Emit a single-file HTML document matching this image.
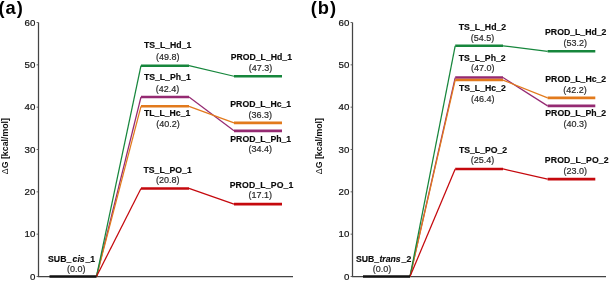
<!DOCTYPE html><html><head><meta charset="utf-8"><style>html,body{margin:0;padding:0;background:#fff;width:609px;height:281px;overflow:hidden}svg{display:block;will-change:transform}text{font-family:"Liberation Sans",sans-serif}</style></head><body>
<svg width="609" height="281" viewBox="0 0 609 281">
<rect width="609" height="281" fill="#fff"/>
<path d="M38.5 22.5V276.5H293" fill="none" stroke="#444" stroke-width="1.25"/>
<line x1="36.60" y1="276.50" x2="38.5" y2="276.50" stroke="#555" stroke-width="0.9"/>
<text x="35.40" y="279.60" font-size="9.7" text-anchor="end" fill="#111" stroke="#111" stroke-width="0.2">0</text>
<line x1="36.60" y1="234.17" x2="38.5" y2="234.17" stroke="#555" stroke-width="0.9"/>
<text x="35.40" y="237.27" font-size="9.7" text-anchor="end" fill="#111" stroke="#111" stroke-width="0.2">10</text>
<line x1="36.60" y1="191.83" x2="38.5" y2="191.83" stroke="#555" stroke-width="0.9"/>
<text x="35.40" y="194.93" font-size="9.7" text-anchor="end" fill="#111" stroke="#111" stroke-width="0.2">20</text>
<line x1="36.60" y1="149.50" x2="38.5" y2="149.50" stroke="#555" stroke-width="0.9"/>
<text x="35.40" y="152.60" font-size="9.7" text-anchor="end" fill="#111" stroke="#111" stroke-width="0.2">30</text>
<line x1="36.60" y1="107.17" x2="38.5" y2="107.17" stroke="#555" stroke-width="0.9"/>
<text x="35.40" y="110.27" font-size="9.7" text-anchor="end" fill="#111" stroke="#111" stroke-width="0.2">40</text>
<line x1="36.60" y1="64.84" x2="38.5" y2="64.84" stroke="#555" stroke-width="0.9"/>
<text x="35.40" y="67.94" font-size="9.7" text-anchor="end" fill="#111" stroke="#111" stroke-width="0.2">50</text>
<line x1="36.60" y1="22.50" x2="38.5" y2="22.50" stroke="#555" stroke-width="0.9"/>
<text x="35.40" y="25.60" font-size="9.7" text-anchor="end" fill="#111" stroke="#111" stroke-width="0.2">60</text>
<text transform="translate(7.6,118.0) rotate(-90)" font-size="8.8" font-weight="bold" text-anchor="end" fill="#111"><tspan font-weight="normal">Δ</tspan>G [kcal/mol]</text>
<polyline points="96.5,276.5 141,97.01" fill="none" stroke="#952a72" stroke-width="1.25"/>
<polyline points="189,97.01 234,130.87" fill="none" stroke="#952a72" stroke-width="1.25"/>
<polyline points="96.5,276.5 141,106.32" fill="none" stroke="#e27a1c" stroke-width="1.25"/>
<polyline points="189,106.32 234,122.83" fill="none" stroke="#e27a1c" stroke-width="1.25"/>
<polyline points="96.5,276.5 141,65.68" fill="none" stroke="#16863c" stroke-width="1.25"/>
<polyline points="189,65.68 234,76.26" fill="none" stroke="#16863c" stroke-width="1.25"/>
<polyline points="96.5,276.5 141,188.45" fill="none" stroke="#c5080d" stroke-width="1.25"/>
<polyline points="189,188.45 234,204.11" fill="none" stroke="#c5080d" stroke-width="1.25"/>
<line x1="141" y1="97.01" x2="189" y2="97.01" stroke="#952a72" stroke-width="2.6"/>
<line x1="234" y1="130.87" x2="282" y2="130.87" stroke="#952a72" stroke-width="2.6"/>
<line x1="141" y1="106.32" x2="189" y2="106.32" stroke="#e27a1c" stroke-width="2.6"/>
<line x1="234" y1="122.83" x2="282" y2="122.83" stroke="#e27a1c" stroke-width="2.6"/>
<line x1="141" y1="65.68" x2="189" y2="65.68" stroke="#16863c" stroke-width="2.6"/>
<line x1="234" y1="76.26" x2="282" y2="76.26" stroke="#16863c" stroke-width="2.6"/>
<line x1="141" y1="188.45" x2="189" y2="188.45" stroke="#c5080d" stroke-width="2.6"/>
<line x1="234" y1="204.11" x2="282" y2="204.11" stroke="#c5080d" stroke-width="2.6"/>
<line x1="49.5" y1="276.5" x2="96.5" y2="276.5" stroke="#111" stroke-width="2.6"/>
<path d="M352.5 22.5V276.5H606" fill="none" stroke="#444" stroke-width="1.25"/>
<line x1="350.60" y1="276.50" x2="352.5" y2="276.50" stroke="#555" stroke-width="0.9"/>
<text x="349.40" y="279.60" font-size="9.7" text-anchor="end" fill="#111" stroke="#111" stroke-width="0.2">0</text>
<line x1="350.60" y1="234.17" x2="352.5" y2="234.17" stroke="#555" stroke-width="0.9"/>
<text x="349.40" y="237.27" font-size="9.7" text-anchor="end" fill="#111" stroke="#111" stroke-width="0.2">10</text>
<line x1="350.60" y1="191.83" x2="352.5" y2="191.83" stroke="#555" stroke-width="0.9"/>
<text x="349.40" y="194.93" font-size="9.7" text-anchor="end" fill="#111" stroke="#111" stroke-width="0.2">20</text>
<line x1="350.60" y1="149.50" x2="352.5" y2="149.50" stroke="#555" stroke-width="0.9"/>
<text x="349.40" y="152.60" font-size="9.7" text-anchor="end" fill="#111" stroke="#111" stroke-width="0.2">30</text>
<line x1="350.60" y1="107.17" x2="352.5" y2="107.17" stroke="#555" stroke-width="0.9"/>
<text x="349.40" y="110.27" font-size="9.7" text-anchor="end" fill="#111" stroke="#111" stroke-width="0.2">40</text>
<line x1="350.60" y1="64.84" x2="352.5" y2="64.84" stroke="#555" stroke-width="0.9"/>
<text x="349.40" y="67.94" font-size="9.7" text-anchor="end" fill="#111" stroke="#111" stroke-width="0.2">50</text>
<line x1="350.60" y1="22.50" x2="352.5" y2="22.50" stroke="#555" stroke-width="0.9"/>
<text x="349.40" y="25.60" font-size="9.7" text-anchor="end" fill="#111" stroke="#111" stroke-width="0.2">60</text>
<text transform="translate(321.6,118.0) rotate(-90)" font-size="8.8" font-weight="bold" text-anchor="end" fill="#111"><tspan font-weight="normal">Δ</tspan>G [kcal/mol]</text>
<polyline points="410,276.5 455.2,77.53" fill="none" stroke="#952a72" stroke-width="1.25"/>
<polyline points="503,77.53 547.6,105.90" fill="none" stroke="#952a72" stroke-width="1.25"/>
<polyline points="410,276.5 455.2,80.07" fill="none" stroke="#e27a1c" stroke-width="1.25"/>
<polyline points="503,80.07 547.6,97.85" fill="none" stroke="#e27a1c" stroke-width="1.25"/>
<polyline points="410,276.5 455.2,45.79" fill="none" stroke="#16863c" stroke-width="1.25"/>
<polyline points="503,45.79 547.6,51.29" fill="none" stroke="#16863c" stroke-width="1.25"/>
<polyline points="410,276.5 455.2,168.97" fill="none" stroke="#c5080d" stroke-width="1.25"/>
<polyline points="503,168.97 547.6,179.13" fill="none" stroke="#c5080d" stroke-width="1.25"/>
<line x1="455.2" y1="77.53" x2="503" y2="77.53" stroke="#952a72" stroke-width="2.6"/>
<line x1="547.6" y1="105.90" x2="595.3" y2="105.90" stroke="#952a72" stroke-width="2.6"/>
<line x1="455.2" y1="80.07" x2="503" y2="80.07" stroke="#e27a1c" stroke-width="2.6"/>
<line x1="547.6" y1="97.85" x2="595.3" y2="97.85" stroke="#e27a1c" stroke-width="2.6"/>
<line x1="455.2" y1="45.79" x2="503" y2="45.79" stroke="#16863c" stroke-width="2.6"/>
<line x1="547.6" y1="51.29" x2="595.3" y2="51.29" stroke="#16863c" stroke-width="2.6"/>
<line x1="455.2" y1="168.97" x2="503" y2="168.97" stroke="#c5080d" stroke-width="2.6"/>
<line x1="547.6" y1="179.13" x2="595.3" y2="179.13" stroke="#c5080d" stroke-width="2.6"/>
<line x1="363" y1="276.5" x2="410" y2="276.5" stroke="#111" stroke-width="2.6"/>
<text x="167.65" y="48.3" font-size="8.7" font-weight="bold" text-anchor="middle" fill="#0a0a0a" stroke="#0a0a0a" stroke-width="0.15">TS_L_Hd_1</text>
<text x="167.85" y="60.20" font-size="9.0" text-anchor="middle" fill="#2a2a2a" stroke="#2a2a2a" stroke-width="0.2">(49.8)</text>
<text x="167.3" y="80.3" font-size="8.7" font-weight="bold" text-anchor="middle" fill="#0a0a0a" stroke="#0a0a0a" stroke-width="0.15">TS_L_Ph_1</text>
<text x="167.6" y="92.20" font-size="9.0" text-anchor="middle" fill="#2a2a2a" stroke="#2a2a2a" stroke-width="0.2">(42.4)</text>
<text x="167.15" y="115.8" font-size="8.7" font-weight="bold" text-anchor="middle" fill="#0a0a0a" stroke="#0a0a0a" stroke-width="0.15">TL_L_Hc_1</text>
<text x="168.0" y="126.70" font-size="9.0" text-anchor="middle" fill="#2a2a2a" stroke="#2a2a2a" stroke-width="0.2">(40.2)</text>
<text x="167.65" y="172.6" font-size="8.7" font-weight="bold" text-anchor="middle" fill="#0a0a0a" stroke="#0a0a0a" stroke-width="0.15">TS_L_PO_1</text>
<text x="167.75" y="183.40" font-size="9.0" text-anchor="middle" fill="#2a2a2a" stroke="#2a2a2a" stroke-width="0.2">(20.8)</text>
<text x="261.35" y="60.4" font-size="8.7" font-weight="bold" text-anchor="middle" fill="#0a0a0a" stroke="#0a0a0a" stroke-width="0.15">PROD_L_Hd_1</text>
<text x="260.5" y="71.00" font-size="9.0" text-anchor="middle" fill="#2a2a2a" stroke="#2a2a2a" stroke-width="0.2">(47.3)</text>
<text x="260.75" y="107.1" font-size="8.7" font-weight="bold" text-anchor="middle" fill="#0a0a0a" stroke="#0a0a0a" stroke-width="0.15">PROD_L_Hc_1</text>
<text x="260.35" y="117.60" font-size="9.0" text-anchor="middle" fill="#2a2a2a" stroke="#2a2a2a" stroke-width="0.2">(36.3)</text>
<text x="260.75" y="141.8" font-size="8.7" font-weight="bold" text-anchor="middle" fill="#0a0a0a" stroke="#0a0a0a" stroke-width="0.15">PROD_L_Ph_1</text>
<text x="260.35" y="152.20" font-size="9.0" text-anchor="middle" fill="#2a2a2a" stroke="#2a2a2a" stroke-width="0.2">(34.4)</text>
<text x="261.6" y="187.8" font-size="8.7" font-weight="bold" text-anchor="middle" letter-spacing="0.15" fill="#0a0a0a" stroke="#0a0a0a" stroke-width="0.15">PROD_L_PO_1</text>
<text x="260.35" y="198.40" font-size="9.0" text-anchor="middle" fill="#2a2a2a" stroke="#2a2a2a" stroke-width="0.2">(17.1)</text>
<text x="71.6" y="261.8" font-size="8.7" font-weight="bold" text-anchor="middle" fill="#0a0a0a" stroke="#0a0a0a" stroke-width="0.15">SUB_<tspan font-style="italic" dx="1.3">cis</tspan><tspan dx="0.8">_1</tspan></text>
<text x="76.3" y="272.20" font-size="9.0" text-anchor="middle" fill="#2a2a2a" stroke="#2a2a2a" stroke-width="0.2">(0.0)</text>
<text x="482.45" y="30.0" font-size="8.7" font-weight="bold" text-anchor="middle" fill="#0a0a0a" stroke="#0a0a0a" stroke-width="0.15">TS_L_Hd_2</text>
<text x="482.4" y="40.50" font-size="9.0" text-anchor="middle" fill="#2a2a2a" stroke="#2a2a2a" stroke-width="0.2">(54.5)</text>
<text x="482.2" y="61.1" font-size="8.7" font-weight="bold" text-anchor="middle" fill="#0a0a0a" stroke="#0a0a0a" stroke-width="0.15">TS_L_Ph_2</text>
<text x="482.8" y="71.20" font-size="9.0" text-anchor="middle" fill="#2a2a2a" stroke="#2a2a2a" stroke-width="0.2">(47.0)</text>
<text x="482.35" y="91.0" font-size="8.7" font-weight="bold" text-anchor="middle" fill="#0a0a0a" stroke="#0a0a0a" stroke-width="0.15">TS_L_Hc_2</text>
<text x="482.65" y="102.40" font-size="9.0" text-anchor="middle" fill="#2a2a2a" stroke="#2a2a2a" stroke-width="0.2">(46.4)</text>
<text x="483.05" y="153.0" font-size="8.7" font-weight="bold" text-anchor="middle" fill="#0a0a0a" stroke="#0a0a0a" stroke-width="0.15">TS_L_PO_2</text>
<text x="482.5" y="163.30" font-size="9.0" text-anchor="middle" fill="#2a2a2a" stroke="#2a2a2a" stroke-width="0.2">(25.4)</text>
<text x="575.75" y="35.4" font-size="8.7" font-weight="bold" text-anchor="middle" fill="#0a0a0a" stroke="#0a0a0a" stroke-width="0.15">PROD_L_Hd_2</text>
<text x="575.2" y="46.10" font-size="9.0" text-anchor="middle" fill="#2a2a2a" stroke="#2a2a2a" stroke-width="0.2">(53.2)</text>
<text x="575.75" y="82.4" font-size="8.7" font-weight="bold" text-anchor="middle" fill="#0a0a0a" stroke="#0a0a0a" stroke-width="0.15">PROD_L_Hc_2</text>
<text x="574.9" y="93.00" font-size="9.0" text-anchor="middle" fill="#2a2a2a" stroke="#2a2a2a" stroke-width="0.2">(42.2)</text>
<text x="575.75" y="115.8" font-size="8.7" font-weight="bold" text-anchor="middle" fill="#0a0a0a" stroke="#0a0a0a" stroke-width="0.15">PROD_L_Ph_2</text>
<text x="575.35" y="127.30" font-size="9.0" text-anchor="middle" fill="#2a2a2a" stroke="#2a2a2a" stroke-width="0.2">(40.3)</text>
<text x="576.8" y="163.4" font-size="8.7" font-weight="bold" text-anchor="middle" letter-spacing="0.15" fill="#0a0a0a" stroke="#0a0a0a" stroke-width="0.15">PROD_L_PO_2</text>
<text x="575.35" y="173.90" font-size="9.0" text-anchor="middle" fill="#2a2a2a" stroke="#2a2a2a" stroke-width="0.2">(23.0)</text>
<text x="383.6" y="262.1" font-size="8.7" font-weight="bold" text-anchor="middle" fill="#0a0a0a" stroke="#0a0a0a" stroke-width="0.15">SUB_<tspan font-style="italic" dx="0.3">trans</tspan><tspan dx="0.9">_2</tspan></text>
<text x="381.9" y="272.20" font-size="9.0" text-anchor="middle" fill="#2a2a2a" stroke="#2a2a2a" stroke-width="0.2">(0.0)</text>
<text x="-1.6" y="14.3" font-size="18.3" font-weight="bold" letter-spacing="1.1" fill="#000">(a)</text>
<text x="310.7" y="14.2" font-size="18.3" font-weight="bold" letter-spacing="1.0" fill="#000">(b)</text>
</svg></body></html>
